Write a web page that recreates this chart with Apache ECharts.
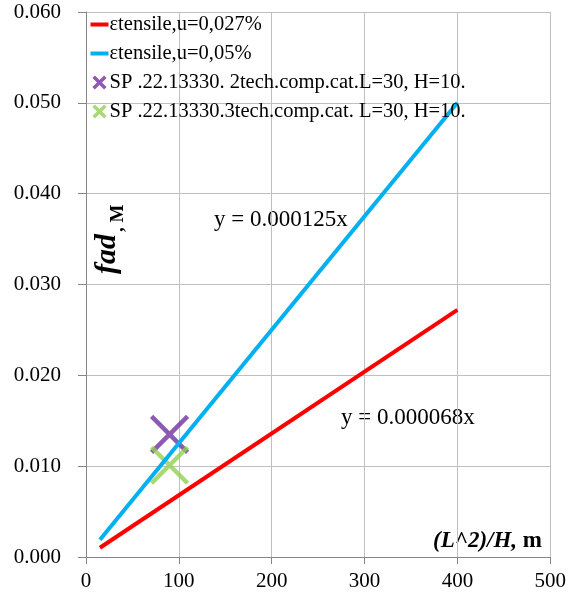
<!DOCTYPE html>
<html>
<head>
    <meta charset="utf-8">
    <title>f_ad chart</title>
    <script src="https://cdn.jsdelivr.net/npm/echarts@6/dist/echarts.min.js"></script>
    <style>
        html, body { margin: 0; padding: 0; background: #ffffff; }
        #chart { width: 569px; height: 599px; }
    </style>
</head>
<body>
<div id="chart"></div>
<script>
    // data
    var seriesNames = ['εtensile,u=0,027%', 'εtensile,u=0,05%',
        'SP .22.13330. 2tech.comp.cat.L=30, H=10.', 'SP .22.13330.3tech.comp.cat. L=30, H=10.'];
    var xRed = [15, 400];
    var yRed = [0.00102, 0.0272];
    var xBlue = [15, 400];
    var yBlue = [0.0019, 0.05];
    var ptCat2 = [90, 0.0135];
    var ptCat3 = [90, 0.0101];
    var eqLabels = ['y = 0.000125x', 'y = 0.000068x'];

    function pairs(xs, ys) {
        return xs.map(function (x, i) { return [x, ys[i]]; });
    }

    var font = 'Liberation Serif';
    var colors = ['#ff0000', '#00b0f0', '#7030a0', '#92d050'];
    var xPath = 'path://M0,0 L10,10 M10,0 L0,10';
    var xIcon = 'path://M-1,-1 M11,11 M0,0 L10,10 M10,0 L0,10';
    var lineIcon = 'path://M0,0 M18,14 M0,5 L18,5 L18,9 L0,9 Z';

    var chart = echarts.init(document.getElementById('chart'));
    var option = {
        backgroundColor: '#ffffff',
        animation: false,
        textStyle: { fontFamily: font, color: '#000' },
        grid: { left: 86, right: 18, top: 12, bottom: 42 },
        legend: {
            orient: 'vertical',
            left: 90,
            top: 14,
            padding: 0,
            itemGap: 8,
            itemWidth: 18,
            itemHeight: 14,
            textStyle: { fontFamily: font, fontSize: 20.5, color: '#000', padding: [0, 0, 0, -4] },
            data: [
                { name: seriesNames[0], icon: lineIcon },
                { name: seriesNames[1], icon: lineIcon },
                { name: seriesNames[2], icon: xIcon, itemStyle: { color: 'none', borderColor: colors[2], borderWidth: 3.5 } },
                { name: seriesNames[3], icon: xIcon, itemStyle: { color: 'none', borderColor: colors[3], borderWidth: 3.5 } }
            ]
        },
        xAxis: {
            type: 'value',
            min: 0, max: 500, interval: 100,
            axisLine: { show: true, lineStyle: { color: '#868686' } },
            axisTick: { show: true, length: 7, lineStyle: { color: '#868686' } },
            axisLabel: { fontFamily: font, fontSize: 21, color: '#000', margin: 14 },
            splitLine: { show: true, lineStyle: { color: '#bfbfbf' } }
        },
        yAxis: {
            type: 'value',
            min: 0, max: 0.06, interval: 0.01,
            axisLine: { show: true, lineStyle: { color: '#868686' } },
            axisTick: { show: true, length: 8, lineStyle: { color: '#868686' } },
            axisLabel: {
                fontFamily: font, fontSize: 21, color: '#000', margin: 25,
                formatter: function (v) { return v.toFixed(3); }
            },
            splitLine: { show: true, lineStyle: { color: '#bfbfbf' } }
        },
        series: [
            {
                name: seriesNames[0], type: 'line', symbol: 'none',
                itemStyle: { color: colors[0] },
                lineStyle: { color: colors[0], width: 4 },
                data: pairs(xRed, yRed)
            },
            {
                name: seriesNames[1], type: 'line', symbol: 'none',
                itemStyle: { color: colors[1] },
                lineStyle: { color: colors[1], width: 4 },
                data: pairs(xBlue, yBlue)
            },
            {
                name: seriesNames[2], type: 'scatter', symbol: xPath, symbolSize: 36,
                itemStyle: { color: 'none', borderColor: colors[2], borderWidth: 4.5 },
                data: [ptCat2]
            },
            {
                name: seriesNames[3], type: 'scatter', symbol: xPath, symbolSize: 36,
                itemStyle: { color: 'none', borderColor: colors[3], borderWidth: 4.5 },
                data: [ptCat3]
            }
        ],
        graphic: [
            {
                type: 'text', x: 214, y: 220,
                style: { text: eqLabels[0], font: '23px "Liberation Serif"', fill: '#000', verticalAlign: 'middle' }
            },
            {
                type: 'text', x: 341, y: 418,
                style: { text: eqLabels[1], font: '23px "Liberation Serif"', fill: '#000', verticalAlign: 'middle' }
            },
            {
                type: 'text', x: 542, y: 541,
                style: {
                    text: '{a|(L^2)/H, }{b|m}', align: 'right', verticalAlign: 'middle',
                    rich: {
                        a: { fontFamily: font, fontSize: 23, fontStyle: 'italic', fontWeight: 'bold', fill: '#000' },
                        b: { fontFamily: font, fontSize: 23, fontWeight: 'bold', fill: '#000' }
                    }
                }
            },
            // y axis title, read bottom to top
            {
                type: 'text', x: 107, y: 274, rotation: Math.PI / 2,
                style: { text: 'fad', align: 'left', verticalAlign: 'middle', font: 'italic bold 30px "Liberation Serif"', fill: '#000' }
            },
            {
                type: 'text', x: 118, y: 232, rotation: Math.PI / 2,
                style: { text: ', M', align: 'left', verticalAlign: 'middle', font: 'bold 19px "Liberation Serif"', fill: '#000' }
            }
        ]
    };
    chart.setOption(option);
</script>
</body>
</html>
